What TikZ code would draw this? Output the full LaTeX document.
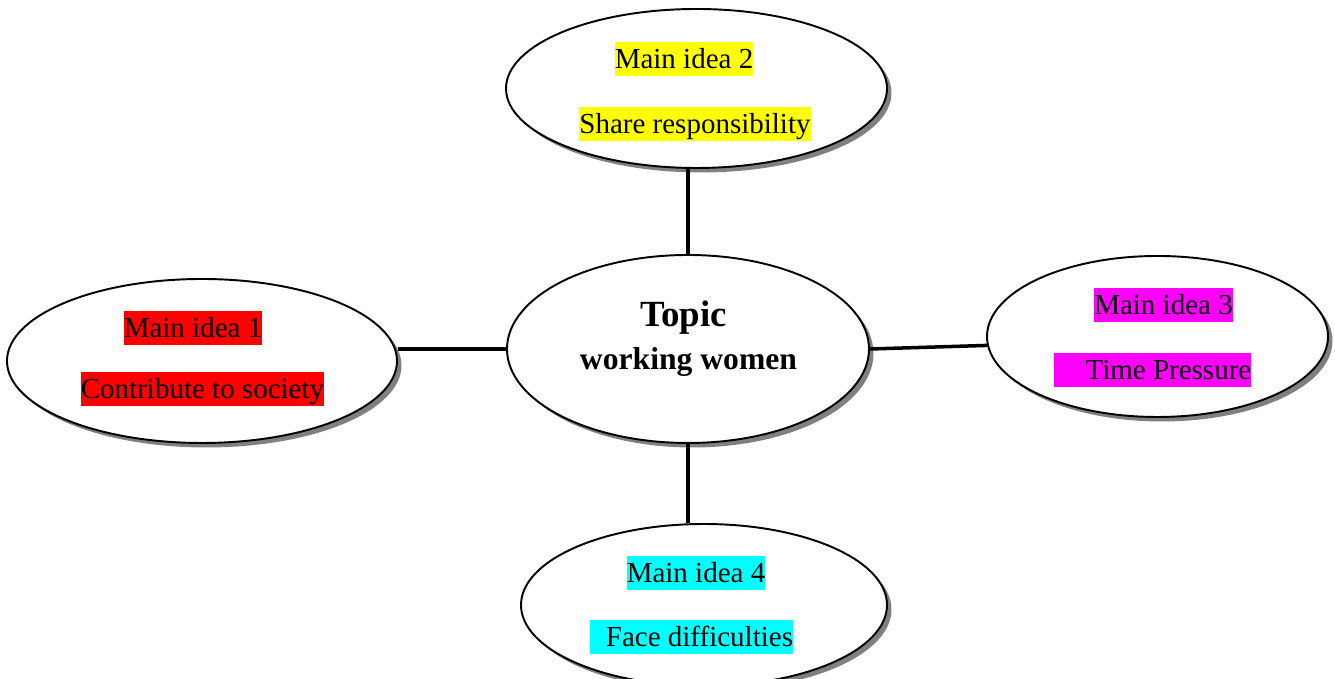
\documentclass[tikz,border=0pt]{standalone}
\usepackage{fontspec}
\setmainfont{Liberation Serif}
\usetikzlibrary{shapes.geometric,shadows}
\definecolor{hlyellow}{RGB}{255,255,0}
\definecolor{hlred}{RGB}{255,0,0}
\definecolor{hlmagenta}{RGB}{255,0,255}
\definecolor{hlcyan}{RGB}{0,255,255}
\definecolor{shadowgray}{RGB}{128,128,128}

\begin{document}
\begin{tikzpicture}[
    bubble/.style={ellipse, draw, line width=1.1pt, fill=white, inner sep=0pt,
        drop shadow={shadow xshift=0.09cm, shadow yshift=-0.09cm, fill=shadowgray, opacity=1}},
    hl/.style={inner sep=0pt, text height=15.3pt, text depth=4pt, font=\fontsize{16.5}{20}\selectfont},
    link/.style={line width=2pt}]

	\useasboundingbox (0,0) rectangle (26.7,13.58);

	% bubbles
	\node[bubble, minimum width=7.24cm, minimum height=3.76cm] (topic) at (13.76,6.60) {};
	\node[bubble, minimum width=7.62cm, minimum height=3.18cm] (main2) at (13.93,11.81) {};
	\node[bubble, minimum width=7.80cm, minimum height=3.28cm] (main1) at (4.04,6.36) {};
	\node[bubble, minimum width=6.82cm, minimum height=3.22cm] (main3) at (23.15,6.85) {};
	\node[bubble, minimum width=7.32cm, minimum height=3.24cm] (main4) at (14.08,1.48) {};

	% connectors
	\draw[link] (topic.north) -- (topic.north |- main2.south);
	\draw[link] (topic.west) -- (topic.west -| main1.east);
	\draw[link] (topic.east) -- (main3.183);
	\draw[link] (topic.south) -- (topic.south |- main4.north);

	% topic text
	\node[anchor=base, font=\bfseries\fontsize{21}{25}\selectfont] (topictitle) at (13.67,7.04) {Topic};
	\node[anchor=base, font=\bfseries\fontsize{18}{22}\selectfont] (topicname) at (13.77,6.18) {working women};

	% highlighted ideas
	\node[hl, fill=hlyellow] (idea2) at (13.68,12.40) {Main idea 2};
	\node[hl, fill=hlyellow] (text2) at (13.90,11.10) {Share responsibility};
	\node[hl, fill=hlred] (idea1) at (3.86,7.02) {Main idea 1};
	\node[hl, fill=hlred] (text1) at (4.05,5.80) {Contribute to society};
	\node[hl, fill=hlmagenta] (idea3) at (23.27,7.48) {Main idea 3};
	\node[hl, fill=hlmagenta] (text3) at (23.05,6.18) {\hspace*{1.1em}Time Pressure};
	\node[hl, fill=hlcyan] (idea4) at (13.92,2.12) {Main idea 4};
	\node[hl, fill=hlcyan] (text4) at (13.83,0.84) {\hspace*{0.55em}Face difficulties};

\end{tikzpicture}
\end{document}
